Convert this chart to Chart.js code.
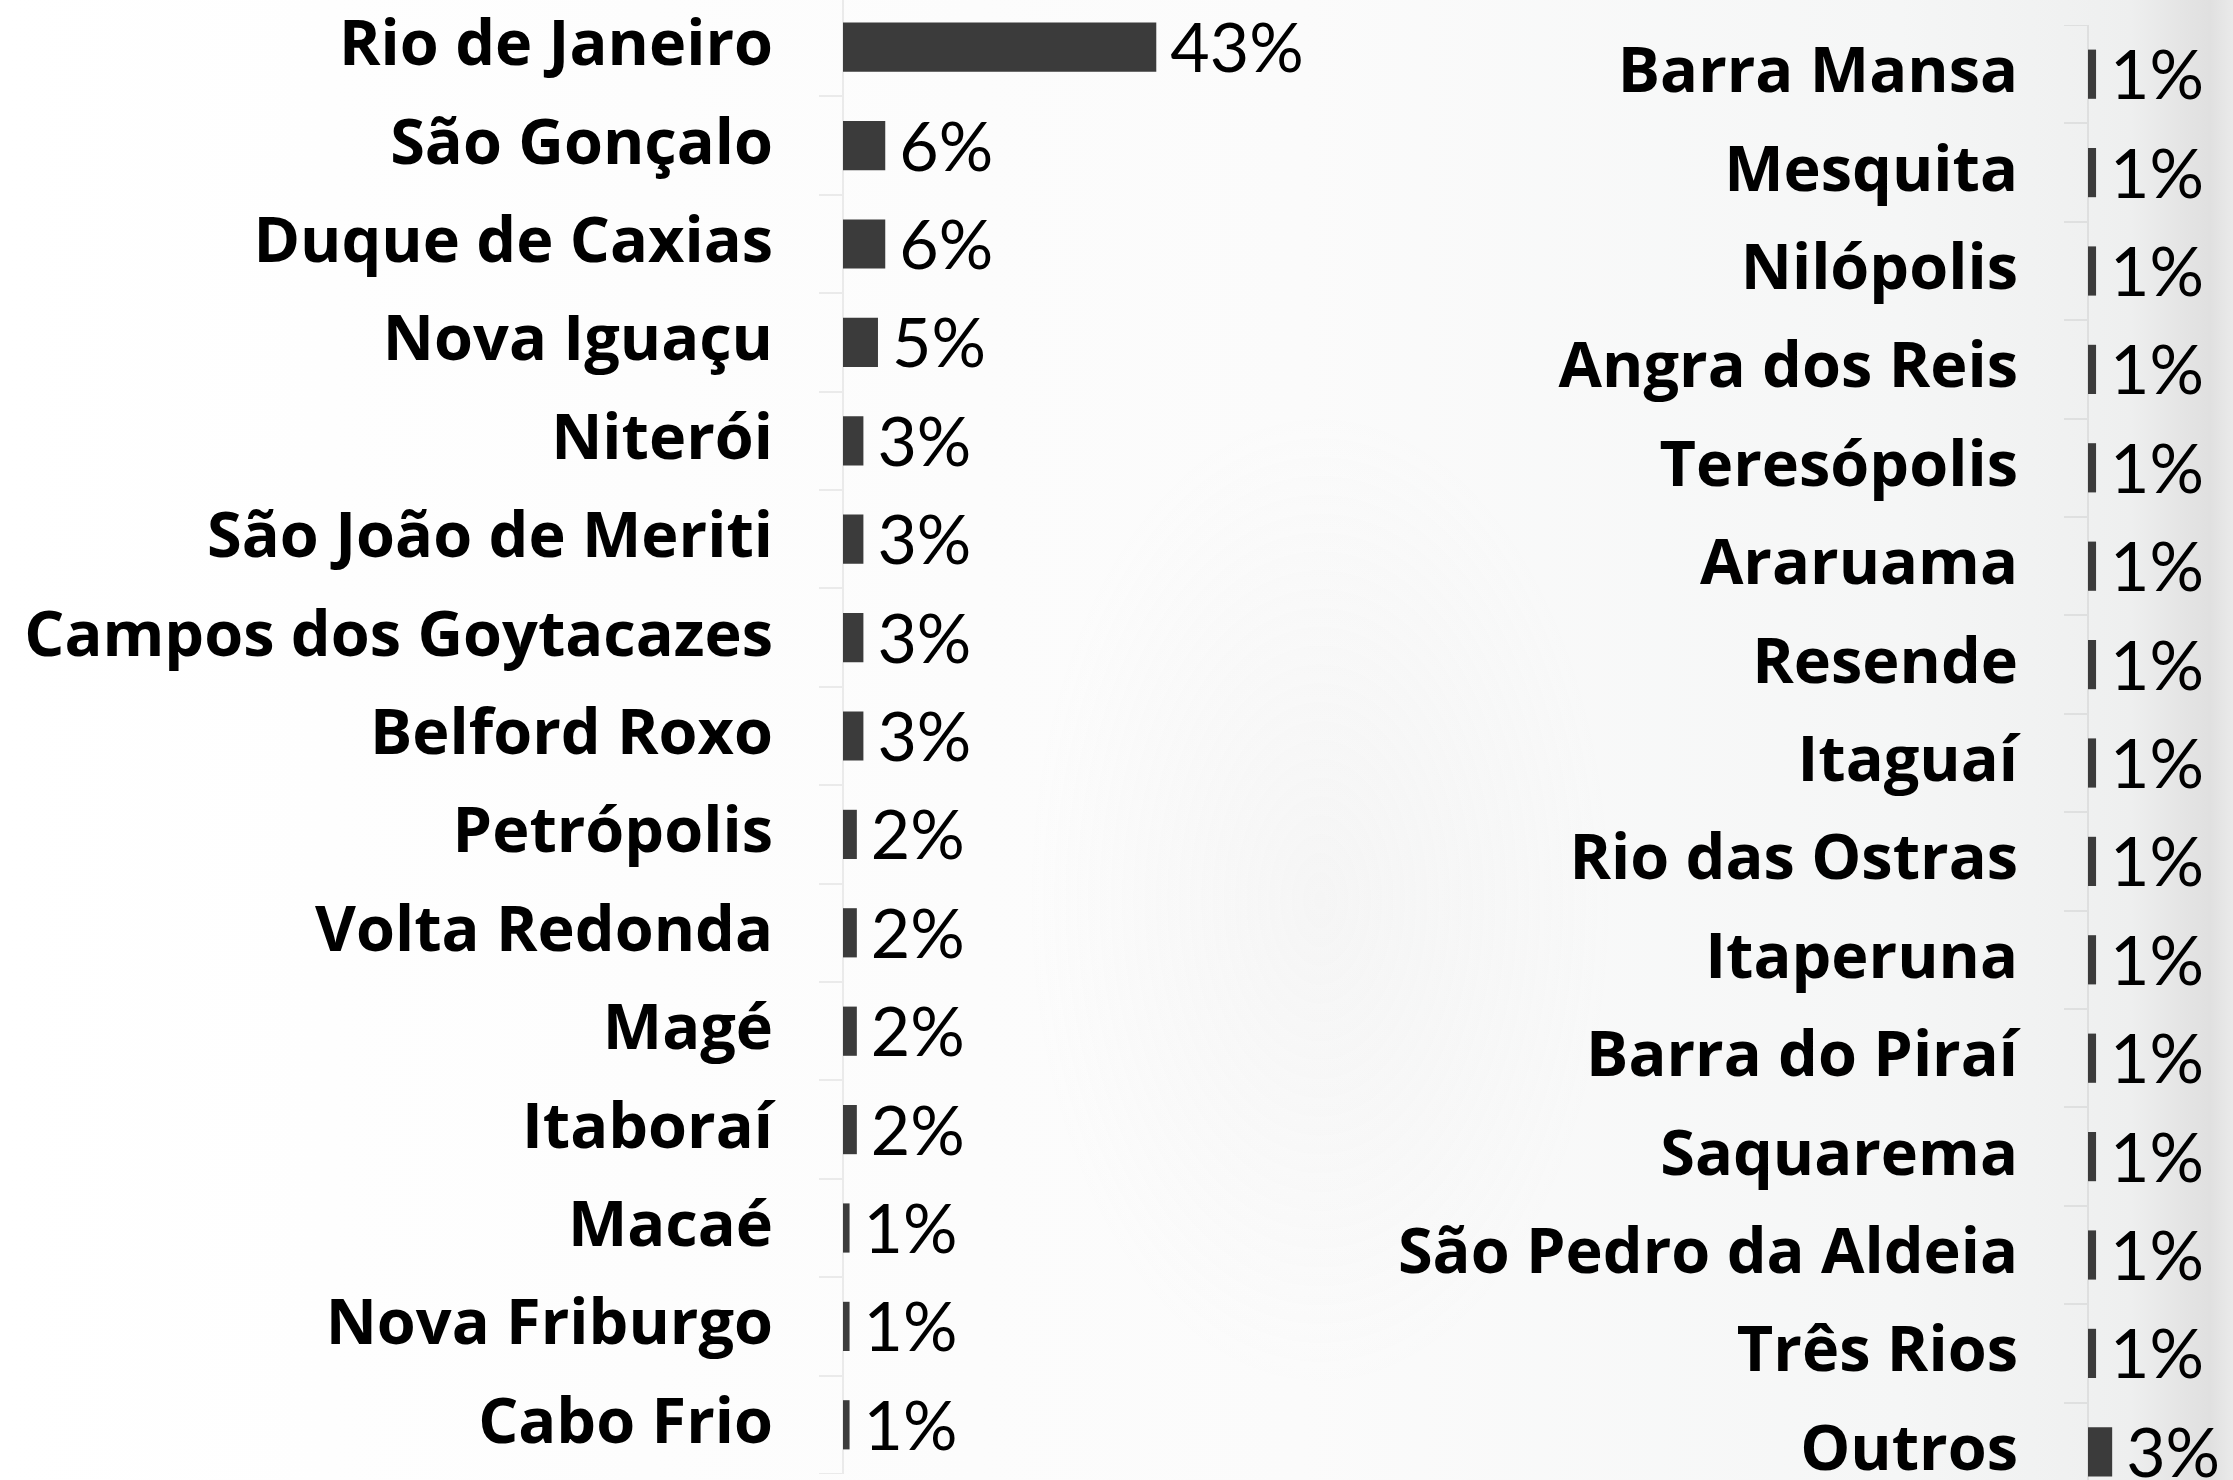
<!DOCTYPE html>
<html>
<head>
<meta charset="utf-8">
<script src="https://cdn.jsdelivr.net/npm/chart.js@4.4.1/dist/chart.umd.min.js"></script>
<style>
  html, body { margin: 0; padding: 0; width: 2233px; height: 1480px; overflow: hidden; }
  body {
    background:
      radial-gradient(ellipse 420px 700px at 1320px 900px, rgba(200,200,200,0.10), rgba(255,255,255,0) 70%),
      linear-gradient(to right, #ffffff 0px, #fbfbfb 1300px, #f5f6f6 1900px, #eeefef 2130px, #e4e4e4 2185px, #e0e0e0 2210px, #eaeaea 2233px);
  }
  canvas { position: absolute; }
  #esq { left: 0; top: -2px; }
  #dir { left: 1330px; top: 25px; }
</style>
</head>
<body>
<canvas id="esq" width="1353" height="1476"></canvas>
<canvas id="dir" width="903" height="1476"></canvas>
<script>
// municípios - parte 1
const cidades1 = ["Rio de Janeiro", "São Gonçalo", "Duque de Caxias", "Nova Iguaçu", "Niterói",
    "São João de Meriti", "Campos dos Goytacazes", "Belford Roxo", "Petrópolis", "Volta Redonda",
    "Magé", "Itaboraí", "Macaé", "Nova Friburgo", "Cabo Frio"];
const perc1 = [43.0, 5.8, 5.8, 4.8, 2.8, 2.8, 2.8, 2.8, 1.9, 1.9, 1.9, 1.9, 0.9, 0.9, 0.9];

// municípios - parte 2
const cidades2 = ["Barra Mansa", "Mesquita", "Nilópolis", "Angra dos Reis", "Teresópolis",
    "Araruama", "Resende", "Itaguaí", "Rio das Ostras", "Itaperuna", "Barra do Piraí",
    "Saquarema", "São Pedro da Aldeia", "Três Rios", "Outros"];
const perc2 = [1.0, 1.0, 1.0, 1.0, 1.0, 1.0, 1.0, 1.0, 1.0, 1.0, 1.0, 1.0, 1.0, 1.0, 3.0];

const corBarra = "#3b3b3b";
const corEixo = "rgba(0,0,0,0.07)";

// rótulos de valor ao lado das barras
const rotulos = {
    id: "rotulos",
    afterDatasetsDraw(chart) {
        let ctx = chart.ctx;
        let meta = chart.getDatasetMeta(0);
        let dados = chart.data.datasets[0].data;
        ctx.save();
        ctx.font = "68px Lato";
        ctx.fillStyle = "#000";
        ctx.textAlign = "left";
        ctx.textBaseline = "middle";
        meta.data.forEach((barra, i) => {
            ctx.fillText(Math.round(dados[i]) + "%", barra.x + 14, barra.y + 3);
        });
        ctx.restore();
    }
};

function criaGrafico(id, labels, valores, larguraEixo, maximo) {
    return new Chart(document.getElementById(id), {
        type: "bar",
        data: {
            labels: labels,
            datasets: [{
                data: valores,
                backgroundColor: corBarra,
                borderWidth: 0,
                barPercentage: 0.5,
                categoryPercentage: 1.0
            }]
        },
        options: {
            indexAxis: "y",
            responsive: false,
            animation: false,
            layout: { padding: 0 },
            plugins: { legend: { display: false }, tooltip: { enabled: false } },
            scales: {
                x: { display: false, min: 0, max: maximo },
                y: {
                    afterFit: (s) => {
                        s.width = larguraEixo;
                        s.paddingTop = 0;
                        s.paddingBottom = 0;
                    },
                    border: { display: true, color: corEixo, width: 2 },
                    grid: { drawOnChartArea: false, drawTicks: true, tickLength: 24, color: corEixo, lineWidth: 2 },
                    ticks: {
                        padding: 46,
                        autoSkip: false,
                        color: "#000",
                        font: { family: "Open Sans", weight: "bold", size: 63 }
                    }
                }
            }
        },
        plugins: [rotulos]
    });
}

onload = () => {
    criaGrafico("esq", cidades1, perc1, 843, 70);
    criaGrafico("dir", cidades2, perc2, 758, 18);
};
</script>
</body>
</html>
